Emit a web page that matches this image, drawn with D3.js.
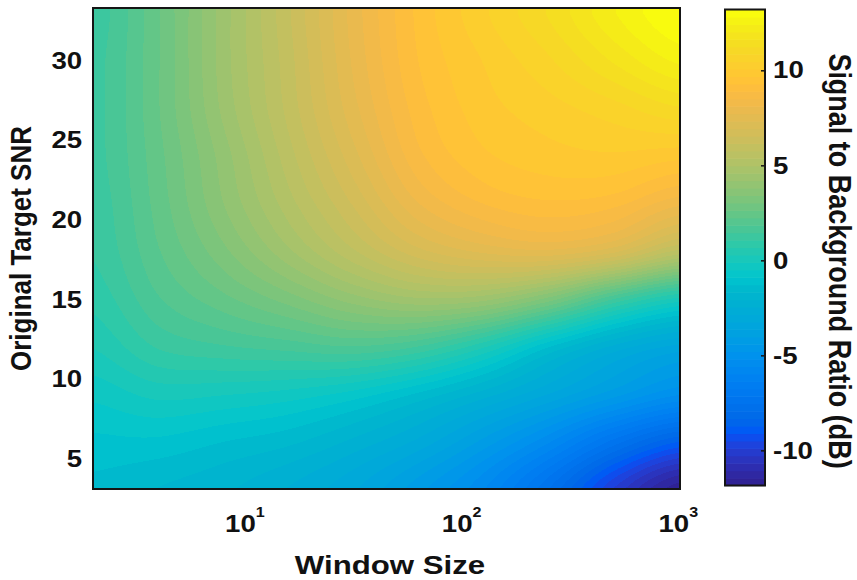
<!DOCTYPE html>
<html>
<head>
<meta charset="utf-8">
<script src="https://cdn.jsdelivr.net/npm/d3@7"></script>
<style>
  html, body { margin: 0; padding: 0; background: #fff; }
  svg { display: block; font-family: "Liberation Sans", Arial, sans-serif; font-weight: bold; }
</style>
</head>
<body>
<svg id="chart" width="857" height="580"></svg>
<script>
// Window sizes (columns) and original target SNR levels (rows, top to bottom)
const windowSizes = [2, 4, 8, 16, 32, 64, 128, 256, 512, 1024];
const snrLevels = [33, 30, 27, 24, 21, 18, 15, 12, 9, 6, 3];

// Signal to background ratio (dB), one array per SNR level, across window sizes
const sbrSnr33 = [1.2, 2.6, 4.4, 6.1, 7.9, 9.4, 10.4, 11.3, 12.4, 13.2];
const sbrSnr30 = [1.3, 2.6, 4.4, 6.0, 7.8, 9.3, 10.1, 10.8, 11.7, 12.5];
const sbrSnr27 = [1.3, 2.6, 4.3, 5.9, 7.6, 9.1, 9.9, 10.3, 10.7, 11.2];
const sbrSnr24 = [1.3, 2.5, 4.0, 5.6, 7.2, 8.8, 9.6, 9.9, 10.0, 9.8];
const sbrSnr21 = [1.2, 2.4, 3.8, 5.2, 6.6, 8.1, 8.9, 9.2, 9.0, 8.2];
const sbrSnr18 = [1.1, 2.2, 3.3, 4.5, 5.7, 6.8, 7.4, 7.6, 7.0, 5.6];
const sbrSnr15 = [0.8, 1.8, 2.5, 3.2, 4.0, 4.5, 4.3, 3.2, 1.4, 0.1];
const sbrSnr12 = [0.3, 1.1, 1.4, 1.6, 1.8, 1.4, 0.3, -1.3, -2.6, -3.4];
const sbrSnr9  = [-0.4, 0.0, -0.1, -0.3, -0.7, -1.4, -2.3, -3.3, -4.3, -5.2];
const sbrSnr6  = [-1.0, -1.0, -1.3, -1.6, -2.2, -3.0, -4.2, -5.6, -7.4, -8.8];
const sbrSnr3  = [-1.4, -1.7, -2.0, -2.5, -3.2, -4.3, -5.6, -7.6, -10.0, -11.8];
const sbrRows = [sbrSnr33, sbrSnr30, sbrSnr27, sbrSnr24, sbrSnr21, sbrSnr18,
                 sbrSnr15, sbrSnr12, sbrSnr9, sbrSnr6, sbrSnr3];

// Axis ticks
const xTicks = [10, 100, 1000];
const yTicks = [5, 10, 15, 20, 25, 30];
const colorTicks = [-10, -5, 0, 5, 10];
const colorLimits = [-11.85, 13.2];

// 64-level parula colormap; greens and blues drawn a little more saturated,
// fading smoothly to the plain map for the warm end
const parula = [
  [0.2081,0.1663,0.5292],[0.2116,0.1898,0.5777],[0.2123,0.2138,0.6270],[0.2081,0.2386,0.6771],
  [0.1959,0.2645,0.7279],[0.1707,0.2919,0.7792],[0.1253,0.3242,0.8303],[0.0591,0.3598,0.8683],
  [0.0117,0.3875,0.8820],[0.0060,0.4086,0.8828],[0.0165,0.4266,0.8786],[0.0329,0.4430,0.8720],
  [0.0498,0.4586,0.8641],[0.0629,0.4737,0.8554],[0.0723,0.4887,0.8467],[0.0779,0.5040,0.8384],
  [0.0793,0.5200,0.8312],[0.0749,0.5375,0.8263],[0.0641,0.5570,0.8240],[0.0488,0.5772,0.8228],
  [0.0343,0.5966,0.8199],[0.0265,0.6137,0.8135],[0.0239,0.6287,0.8038],[0.0231,0.6418,0.7913],
  [0.0228,0.6535,0.7768],[0.0267,0.6642,0.7607],[0.0384,0.6743,0.7436],[0.0590,0.6838,0.7254],
  [0.0843,0.6928,0.7062],[0.1133,0.7015,0.6859],[0.1453,0.7098,0.6646],[0.1801,0.7177,0.6424],
  [0.2178,0.7250,0.6193],[0.2586,0.7317,0.5954],[0.3022,0.7376,0.5712],[0.3482,0.7424,0.5473],
  [0.3953,0.7459,0.5244],[0.4420,0.7481,0.5033],[0.4871,0.7491,0.4840],[0.5300,0.7491,0.4661],
  [0.5709,0.7485,0.4494],[0.6099,0.7473,0.4337],[0.6473,0.7456,0.4188],[0.6834,0.7435,0.4044],
  [0.7184,0.7411,0.3905],[0.7525,0.7384,0.3768],[0.7858,0.7356,0.3633],[0.8185,0.7327,0.3498],
  [0.8507,0.7299,0.3360],[0.8824,0.7274,0.3217],[0.9139,0.7258,0.3063],[0.9450,0.7261,0.2886],
  [0.9739,0.7314,0.2666],[0.9938,0.7455,0.2403],[0.9990,0.7653,0.2164],[0.9955,0.7861,0.1967],
  [0.9880,0.8066,0.1794],[0.9789,0.8271,0.1633],[0.9697,0.8481,0.1475],[0.9626,0.8705,0.1309],
  [0.9589,0.8949,0.1132],[0.9598,0.9218,0.0948],[0.9661,0.9514,0.0755],[0.9763,0.9831,0.0538]
].map((c, i) => {
  const h = d3.hsl(d3.rgb(c[0] * 255, c[1] * 255, c[2] * 255));
  const w = Math.max(0, Math.min(1, (52 - i) / 24));
  h.s = Math.min(1, h.s * (1 + 0.2 * w));
  h.l = Math.min(1, h.l * (1 + 0.03 * w));
  return d3.rgb(h);
});

// Layout
const plot = { left: 93, top: 8, right: 680, bottom: 489 };
const bar = { left: 725, right: 765, top: 9.5, bottom: 485.5 };
const textStretch = 1.15;

const svg = d3.select("#chart");

const x = d3.scaleLog().domain([2, 1024]).range([plot.left, plot.right]);
const y = d3.scaleLinear().domain([3.1, 33.3]).range([plot.bottom, plot.top]);
const color = d3.scaleQuantize().domain(colorLimits).range(parula);
const cbY = d3.scaleLinear().domain(colorLimits).range([bar.bottom, bar.top]);

// Grid lookup: column index from log2 window size, row index from SNR level
const colIndex = d3.scaleLinear().domain([Math.log2(windowSizes[0]), Math.log2(windowSizes[windowSizes.length - 1])])
  .range([0, windowSizes.length - 1]).clamp(true);
const rowIndex = d3.scaleLinear().domain([snrLevels[0], snrLevels[snrLevels.length - 1]])
  .range([0, snrLevels.length - 1]).clamp(true);

function cubic(p0, p1, p2, p3, f) {
  return 0.5 * (2 * p1 + (-p0 + p2) * f + (2 * p0 - 5 * p1 + 4 * p2 - p3) * f * f
    + (-p0 + 3 * p1 - 3 * p2 + p3) * f * f * f);
}
function along(arr, t) {
  const n = arr.length;
  const i = Math.min(Math.floor(t), n - 2);
  const f = t - i;
  const g = k => arr[Math.max(0, Math.min(n - 1, k))];
  return cubic(g(i - 1), g(i), g(i + 1), g(i + 2), f);
}
function sbrAt(ws, snr) {
  const u = colIndex(Math.log2(ws));
  const v = rowIndex(snr);
  const colVals = sbrRows.map(row => along(row, u));
  return along(colVals, v);
}

// Shaded surface rendered pixel by pixel through the scales
const W = plot.right - plot.left, H = plot.bottom - plot.top;
const canvas = document.createElement("canvas");
canvas.width = W; canvas.height = H;
const ctx = canvas.getContext("2d");
const img = ctx.createImageData(W, H);
for (let j = 0; j < H; j++) {
  const snr = y.invert(plot.top + j + 0.5);
  for (let i = 0; i < W; i++) {
    const ws = x.invert(plot.left + i + 0.5);
    const c = color(sbrAt(ws, snr));
    const k = (j * W + i) * 4;
    img.data[k] = c.r; img.data[k + 1] = c.g; img.data[k + 2] = c.b; img.data[k + 3] = 255;
  }
}
ctx.putImageData(img, 0, 0);

svg.append("image")
  .attr("x", plot.left).attr("y", plot.top)
  .attr("width", W).attr("height", H)
  .attr("preserveAspectRatio", "none")
  .attr("href", canvas.toDataURL());

svg.append("rect")
  .attr("x", plot.left).attr("y", plot.top)
  .attr("width", W).attr("height", H)
  .attr("fill", "none").attr("stroke", "#151515").attr("stroke-width", 2);

// Y axis
const yAxis = svg.append("g")
  .attr("transform", `translate(${plot.left},0)`)
  .call(d3.axisLeft(y).tickValues(yTicks).tickSize(0).tickPadding(9.5).tickFormat(d3.format("d")));
yAxis.select(".domain").remove();
yAxis.selectAll("text")
  .attr("font-size", 24).attr("font-family", null).attr("fill", "#111")
  .attr("transform", `scale(${textStretch},1)`);

// X axis with power-of-ten labels
const xAxis = svg.append("g")
  .attr("transform", `translate(0,${plot.bottom})`)
  .call(d3.axisBottom(x).tickValues(xTicks).tickSize(0));
xAxis.select(".domain").remove();
xAxis.selectAll(".tick text").each(function (d) {
  const t = d3.select(this);
  t.text(null).attr("y", 0).attr("dy", null).attr("font-family", null)
    .attr("font-size", 24).attr("fill", "#111")
    .attr("transform", `translate(0,43) scale(${textStretch},1)`);
  t.append("tspan").text("10");
  t.append("tspan").attr("font-size", 14).attr("dy", -15).text(Math.round(Math.log10(d)));
});

// Axis titles
svg.append("text")
  .attr("transform", `translate(390,574) scale(1.2,1)`)
  .attr("text-anchor", "middle").attr("font-size", 26).attr("fill", "#111")
  .text("Window Size");

svg.append("text")
  .attr("transform", `translate(31,${(plot.top + plot.bottom) / 2}) scale(${textStretch},1) rotate(-90)`)
  .attr("text-anchor", "middle").attr("font-size", 26).attr("fill", "#111")
  .text("Original Target SNR");

// Colorbar
const step = (colorLimits[1] - colorLimits[0]) / parula.length;
svg.append("g").selectAll("rect")
  .data(parula)
  .join("rect")
  .attr("x", bar.left)
  .attr("width", bar.right - bar.left)
  .attr("y", (c, i) => cbY(colorLimits[0] + (i + 1) * step))
  .attr("height", (c, i) => cbY(colorLimits[0] + i * step) - cbY(colorLimits[0] + (i + 1) * step) + 0.6)
  .attr("fill", c => c);

svg.append("rect")
  .attr("x", bar.left).attr("y", bar.top)
  .attr("width", bar.right - bar.left).attr("height", bar.bottom - bar.top)
  .attr("fill", "none").attr("stroke", "#151515").attr("stroke-width", 2);

const cAxis = svg.append("g")
  .attr("transform", `translate(${bar.right},0)`)
  .call(d3.axisRight(cbY).tickValues(colorTicks).tickSizeInner(-4).tickSizeOuter(0)
    .tickPadding(7).tickFormat(d => String(d)));
cAxis.select(".domain").remove();
cAxis.selectAll(".tick line").attr("stroke", "#151515").attr("stroke-width", 1.5);
cAxis.selectAll("text")
  .attr("font-size", 24).attr("font-family", null).attr("fill", "#111")
  .attr("transform", `scale(${textStretch},1)`);

svg.append("text")
  .attr("transform", `translate(829,261) scale(${textStretch},1) rotate(90)`)
  .attr("text-anchor", "middle").attr("font-size", 27).attr("fill", "#111")
  .text("Signal to Background Ratio (dB)");
</script>
</body>
</html>
